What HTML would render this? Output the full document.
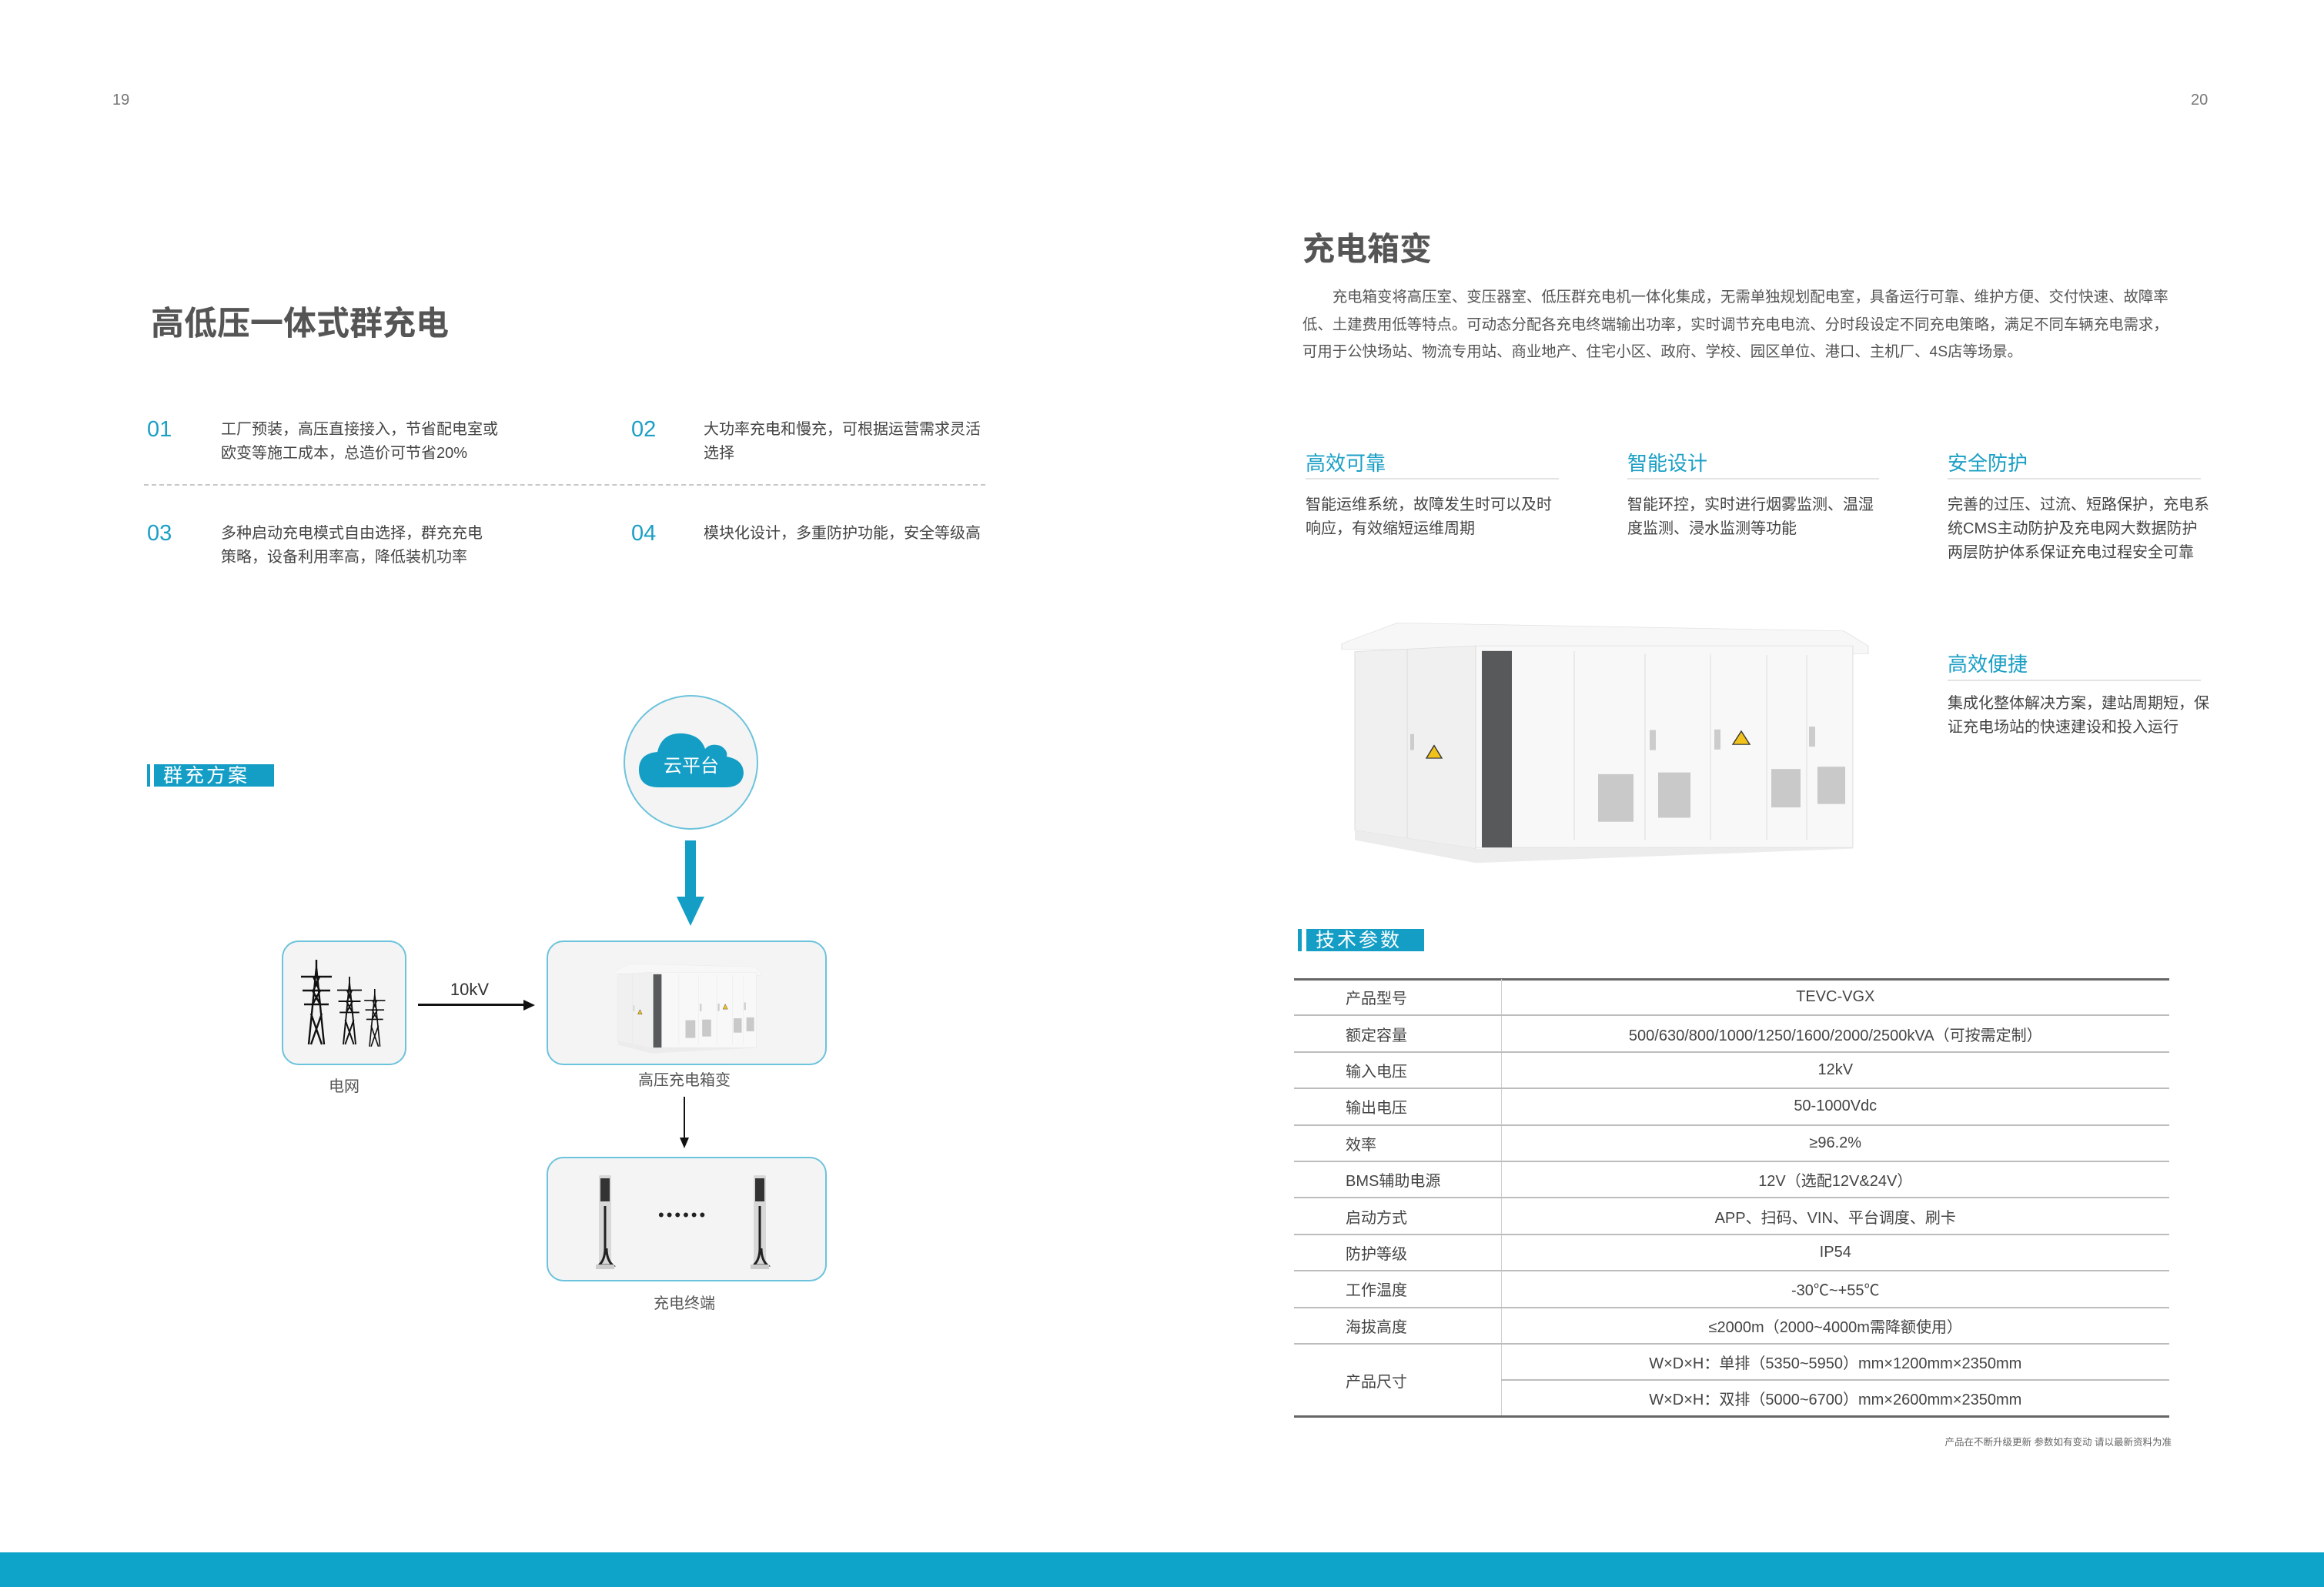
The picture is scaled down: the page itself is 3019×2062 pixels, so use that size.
<!DOCTYPE html>
<html><head><meta charset="utf-8">
<style>
*{margin:0;padding:0;box-sizing:border-box}
body{width:3019px;height:2062px;background:#fff;position:relative;overflow:hidden;font-family:"Liberation Sans","Noto Sans CJK SC",sans-serif;color:#444}
.a{position:absolute;white-space:nowrap}
.num{color:#1a9fc5;font-size:29px;line-height:34px}
.t{font-size:20px;line-height:31px;color:#444}
.ft{color:#1a9fc5;font-size:26px;line-height:30px}
.ul{position:absolute;height:2px;background:#e3e3e3}
.box{position:absolute;border:2px solid #6cc3dc;border-radius:22px;background:#f4f4f4}
.lbl{position:absolute;font-size:20px;color:#555;transform:translateX(-50%);white-space:nowrap}
.tag{position:absolute;background:#149ec6;color:#fff;font-size:25px;letter-spacing:3px;line-height:30px;padding-left:12px}
.bar{position:absolute;background:#149ec6}
table{border-collapse:collapse;position:absolute;left:1681px;top:1272px;width:1137px;font-size:20px;color:#444}
td{height:47.4px;border-bottom:2px solid #bdbdbd;padding:0}
td.k{width:269px;padding-left:67px;border-right:1px solid #cfcfcf}
td.v{text-align:center}
</style></head><body>
<svg width="0" height="0" style="position:absolute">
<defs>
<g id="bx">
<polygon points="8,62 80,26 660,40 692,66 692,80 8,72" fill="#f7f7f7" stroke="#e2e2e2"/>
<polygon points="25,76 182,66 182,420 25,388" fill="#f0f0f0" stroke="#ddd"/>
<line x1="93" y1="72" x2="93" y2="402" stroke="#ddd"/>
<polygon points="25,388 182,420 672,405 672,420 182,445 25,405" fill="#ececec"/>
<rect x="182" y="66" width="490" height="352" fill="#f8f8f8" stroke="#ddd"/>
<rect x="190" y="75" width="39" height="343" fill="#58595b"/>
<g stroke="#ddd" fill="none"><line x1="310" y1="75" x2="310" y2="405"/><line x1="402" y1="80" x2="402" y2="405"/><line x1="487" y1="80" x2="487" y2="405"/><line x1="560" y1="82" x2="560" y2="405"/><line x1="612" y1="82" x2="612" y2="405"/></g>
<g fill="#c9c9c9"><rect x="341" y="290" width="46" height="83"/><rect x="419" y="287" width="42" height="79"/><rect x="566" y="281" width="38" height="67"/><rect x="626" y="277" width="36" height="65"/></g>
<g fill="#ccc"><rect x="97" y="220" width="5" height="28"/><rect x="408" y="213" width="8" height="35"/><rect x="492" y="212" width="8" height="35"/><rect x="615" y="207" width="8" height="35"/></g>
<g fill="#f0c21a" stroke="#333" stroke-width="1.5"><polygon points="128,240 118,262 138,262"/><polygon points="527,215 516,238 538,238"/></g>
</g>
<g id="pl">
<rect x="0" y="0" width="16" height="118" rx="2" fill="#d8d8d8"/>
<rect x="2" y="4" width="12" height="30" fill="#333"/>
<path d="M8 40 v55 q0 15 -8 22 h18 q-8 -7 -8 -22" stroke="#222" stroke-width="3" fill="none"/>
<rect x="-4" y="116" width="24" height="6" fill="#ccc"/>
</g>
<g id="tw" stroke="#111" stroke-width="2.4" fill="none">
<path d="M0 110 L10 10 L20 110 M10 10 L10 0 M-10 22 H30 M-8 40 H28 M-6 58 H26 M3 70 L17 110 M17 70 L3 110 M5 40 L15 58 M15 40 L5 58 M6 22 L14 40 M14 22 L6 40"/>
</g>
</defs>
</svg>

<div class="a" style="left:146px;top:119px;font-size:20px;color:#777">19</div>
<div class="a" style="left:2846px;top:119px;font-size:20px;color:#777">20</div>

<div class="a" style="left:196px;top:386px;font-size:43px;font-weight:bold;color:#555">高低压一体式群充电</div>

<div class="a num" style="left:191px;top:541px">01</div>
<div class="a t" style="left:287px;top:543px">工厂预装，高压直接接入，节省配电室或<br>欧变等施工成本，总造价可节省20%</div>
<div class="a num" style="left:820px;top:541px">02</div>
<div class="a t" style="left:914px;top:543px">大功率充电和慢充，可根据运营需求灵活<br>选择</div>
<div class="a" style="left:187px;top:629px;width:1093px;border-top:2px dashed #c8c8c8"></div>
<div class="a num" style="left:191px;top:676px">03</div>
<div class="a t" style="left:287px;top:678px">多种启动充电模式自由选择，群充充电<br>策略，设备利用率高，降低装机功率</div>
<div class="a num" style="left:820px;top:676px">04</div>
<div class="a t" style="left:914px;top:678px">模块化设计，多重防护功能，安全等级高</div>

<div class="bar" style="left:191px;top:993px;width:4px;height:29px"></div>
<div class="tag" style="left:200px;top:993px;width:156px;height:29px">群充方案</div>

<div class="a" style="left:810px;top:903px;width:175px;height:175px;border-radius:50%;border:2px solid #6cc3dc;background:#f4f4f4"></div>
<svg class="a" style="left:828px;top:945px" width="140" height="80" viewBox="0 0 140 80">
<path d="M28 78 Q2 78 2 55 Q2 34 26 32 Q32 6 60 8 Q82 10 88 28 Q95 20 108 24 Q118 30 116 38 Q138 42 138 60 Q136 78 114 78 Z" fill="#149ec6"/>
<text x="70" y="58" font-size="24" fill="#fff" text-anchor="middle" font-family="Liberation Sans,Noto Sans CJK SC,sans-serif">云平台</text>
</svg>
<div class="a" style="left:890px;top:1092px;width:14px;height:76px;background:#149ec6"></div>
<div class="a" style="left:879px;top:1165px;width:0;height:0;border-left:18px solid transparent;border-right:18px solid transparent;border-top:38px solid #149ec6"></div>

<div class="box" style="left:366px;top:1222px;width:162px;height:162px"></div>
<svg class="a" style="left:380px;top:1245px" width="130" height="115" viewBox="0 0 130 115">
<use href="#tw" transform="translate(21,2)"/>
<use href="#tw" transform="translate(66,24) scale(0.8)"/>
<use href="#tw" transform="translate(100,40) scale(0.68)"/>
</svg>
<div class="lbl" style="left:447px;top:1395px">电网</div>

<div class="a" style="left:543px;top:1304px;width:140px;height:3px;background:#111"></div>
<div class="a" style="left:680px;top:1299px;border-top:7px solid transparent;border-bottom:7px solid transparent;border-left:15px solid #111"></div>
<div class="lbl" style="left:610px;top:1273px;font-size:22px;color:#333">10kV</div>

<div class="box" style="left:710px;top:1222px;width:364px;height:162px"></div>
<svg class="a" style="left:768px;top:1245px" width="250" height="125" viewBox="0 0 700 450"><use href="#bx"/></svg>
<div class="lbl" style="left:889px;top:1387px">高压充电箱变</div>

<div class="a" style="left:888px;top:1425px;width:2px;height:55px;background:#111"></div>
<div class="a" style="left:883px;top:1478px;border-left:6px solid transparent;border-right:6px solid transparent;border-top:14px solid #111"></div>

<div class="box" style="left:710px;top:1503px;width:364px;height:162px"></div>
<svg class="a" style="left:770px;top:1527px" width="30" height="125"><use href="#pl" transform="translate(8,0)"/></svg>
<svg class="a" style="left:971px;top:1527px" width="30" height="125"><use href="#pl" transform="translate(8,0)"/></svg>
<div class="a" style="left:855px;top:1566px;font-size:22px;color:#222;letter-spacing:3px">••••••</div>
<div class="lbl" style="left:889px;top:1677px">充电终端</div>

<div class="a" style="left:1692px;top:290px;font-size:42px;font-weight:bold;color:#555">充电箱变</div>
<div class="a" style="left:1692px;top:369px;font-size:19.4px;line-height:35.5px;color:#555">
<div>&emsp;&emsp;充电箱变将高压室、变压器室、低压群充电机一体化集成，无需单独规划配电室，具备运行可靠、维护方便、交付快速、故障率</div>
<div>低、土建费用低等特点。可动态分配各充电终端输出功率，实时调节充电电流、分时段设定不同充电策略，满足不同车辆充电需求，</div>
<div>可用于公快场站、物流专用站、商业地产、住宅小区、政府、学校、园区单位、港口、主机厂、4S店等场景。</div>
</div>

<div class="a ft" style="left:1696px;top:587px">高效可靠</div>
<div class="ul" style="left:1696px;top:621px;width:329px"></div>
<div class="a t" style="left:1696px;top:641px">智能运维系统，故障发生时可以及时<br>响应，有效缩短运维周期</div>

<div class="a ft" style="left:2114px;top:587px">智能设计</div>
<div class="ul" style="left:2114px;top:621px;width:327px"></div>
<div class="a t" style="left:2114px;top:641px">智能环控，实时进行烟雾监测、温湿<br>度监测、浸水监测等功能</div>

<div class="a ft" style="left:2530px;top:587px">安全防护</div>
<div class="ul" style="left:2530px;top:621px;width:329px"></div>
<div class="a t" style="left:2530px;top:641px">完善的过压、过流、短路保护，充电系<br>统CMS主动防护及充电网大数据防护<br>两层防护体系保证充电过程安全可靠</div>

<div class="a ft" style="left:2530px;top:848px">高效便捷</div>
<div class="ul" style="left:2530px;top:883px;width:329px"></div>
<div class="a t" style="left:2530px;top:899px">集成化整体解决方案，建站周期短，保<br>证充电场站的快速建设和投入运行</div>

<svg class="a" style="left:1735px;top:790px" width="700" height="335" viewBox="0 0 700 450" preserveAspectRatio="none"><use href="#bx"/></svg>

<div class="bar" style="left:1686px;top:1207px;width:5px;height:29px"></div>
<div class="tag" style="left:1697px;top:1207px;width:153px;height:29px">技术参数</div>

<div class="a" style="left:1681px;top:1271px;width:1137px;height:3px;background:#666"></div>
<table>
<tr><td class="k">产品型号</td><td class="v">TEVC-VGX</td></tr>
<tr><td class="k">额定容量</td><td class="v">500/630/800/1000/1250/1600/2000/2500kVA（可按需定制）</td></tr>
<tr><td class="k">输入电压</td><td class="v">12kV</td></tr>
<tr><td class="k">输出电压</td><td class="v">50-1000Vdc</td></tr>
<tr><td class="k">效率</td><td class="v">≥96.2%</td></tr>
<tr><td class="k">BMS辅助电源</td><td class="v">12V（选配12V&amp;24V）</td></tr>
<tr><td class="k">启动方式</td><td class="v">APP、扫码、VIN、平台调度、刷卡</td></tr>
<tr><td class="k">防护等级</td><td class="v">IP54</td></tr>
<tr><td class="k">工作温度</td><td class="v">-30℃~+55℃</td></tr>
<tr><td class="k">海拔高度</td><td class="v">≤2000m（2000~4000m需降额使用）</td></tr>
<tr><td class="k" rowspan="2" style="border-bottom:3px solid #666">产品尺寸</td><td class="v">W×D×H：单排（5350~5950）mm×1200mm×2350mm</td></tr>
<tr><td class="v" style="border-bottom:3px solid #666">W×D×H：双排（5000~6700）mm×2600mm×2350mm</td></tr>
</table>
<div class="a" style="right:198px;top:1863px;font-size:12.5px;color:#666">产品在不断升级更新 参数如有变动 请以最新资料为准</div>

<div class="a" style="left:0;top:2017px;width:3019px;height:45px;background:#0ea3c9"></div>
</body></html>
